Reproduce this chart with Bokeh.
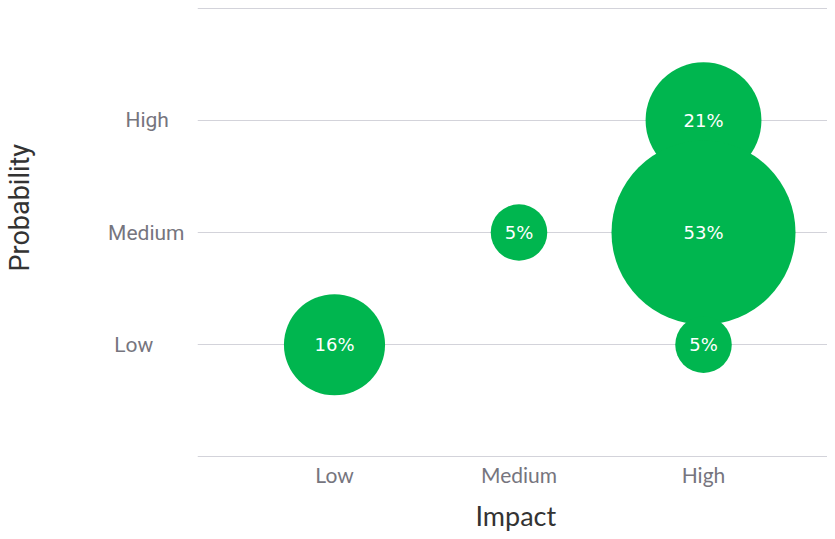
import math
from bokeh.plotting import figure
from bokeh.models import ColumnDataSource, FixedTicker, Range1d, Title, LinearAxis
from bokeh.core.properties import value
from bokeh.embed import file_html
from bokeh.resources import INLINE

levels = ["Low", "Medium", "High"]
y_tick_labels = ["Low\u00a0\u00a0\u00a0\u00a0\u00a0\u00a0", "Medium", "High\u00a0\u00a0\u00a0"]
impact = ["Low", "Medium", "High", "High", "High"]
probability = ["Low", "Medium", "High", "Medium", "Low"]
share = [16, 5, 21, 53, 5]

xs = [levels.index(c) + 1 for c in impact]
ys = [levels.index(c) + 1 for c in probability]
sizes = [2 * 12.64 * math.sqrt(v) for v in share]
labels = [f"{v}%" for v in share]

src = ColumnDataSource(dict(x=xs, y=ys, size=sizes, label=labels))

p = figure(width=827, height=531, output_backend="svg", toolbar_location=None,
           x_range=Range1d(0.2575, 3.672), y_range=Range1d(-0.005, 4.005),
           min_border_left=197, min_border_right=0, min_border_top=7, min_border_bottom=73)
p.outline_line_color = None
p.background_fill_color = "white"

p.scatter("x", "y", size="size", source=src, fill_color="#00b64f", line_color=None)
p.text("x", "y", text="label", source=src, text_color="white", text_align="center",
       text_baseline="middle", text_font=value("DejaVu Sans"), text_font_size="18px")

# x axis
p.xaxis.ticker = FixedTicker(ticks=[1, 2, 3])
p.xaxis.major_label_overrides = {1: levels[0], 2: levels[1], 3: levels[2]}
p.xaxis.axis_line_color = None
p.xaxis.major_tick_line_color = None
p.xaxis.major_tick_out = 0
p.xaxis.minor_tick_line_color = None
p.xaxis.major_label_text_font = "Lato"
p.xaxis.major_label_text_font_size = "21px"
p.xaxis.major_label_text_color = "#76757e"
p.xaxis.major_label_standoff = 4
p.xgrid.grid_line_color = None

# y axis
p.yaxis.ticker = FixedTicker(ticks=[0, 1, 2, 3, 4])
p.yaxis.major_label_overrides = {0: "", 1: y_tick_labels[0], 2: y_tick_labels[1],
                                 3: y_tick_labels[2], 4: ""}
p.yaxis.axis_line_color = None
p.yaxis.major_tick_line_color = None
p.yaxis.major_tick_out = 0
p.yaxis.minor_tick_line_color = None
p.yaxis.major_label_text_font = "Roboto"
p.yaxis.major_label_text_font_size = "21px"
p.yaxis.major_label_text_color = "#76757e"
p.yaxis.major_label_standoff = 13
p.ygrid.grid_line_color = "#d3d3da"
p.ygrid.grid_line_width = 1

# invisible spacers between the tick labels and the axis titles
spacer_left = LinearAxis(ticker=FixedTicker(ticks=[1]), major_label_overrides={1: ""},
                         axis_line_color=None, major_tick_line_color=None,
                         minor_tick_line_color=None, major_tick_in=0, major_tick_out=70,
                         major_label_standoff=0)
p.add_layout(spacer_left, "left")
spacer_below = LinearAxis(ticker=FixedTicker(ticks=[1]), major_label_overrides={1: ""},
                          axis_line_color=None, major_tick_line_color=None,
                          minor_tick_line_color=None, major_tick_in=0, major_tick_out=7,
                          major_label_standoff=0)
p.add_layout(spacer_below, "below")

xt = Title(text="Impact", align="left", offset=278, standoff=0,
           text_font="Lato", text_font_style="normal", text_font_size="27px",
           text_color="#333333")
p.add_layout(xt, "below")
yt = Title(text="Probability", align="left", offset=186, standoff=0,
           text_font="Roboto", text_font_style="normal", text_font_size="27px",
           text_color="#333333")
p.add_layout(yt, "left")

open("out.html", "w").write(file_html(p, INLINE))
